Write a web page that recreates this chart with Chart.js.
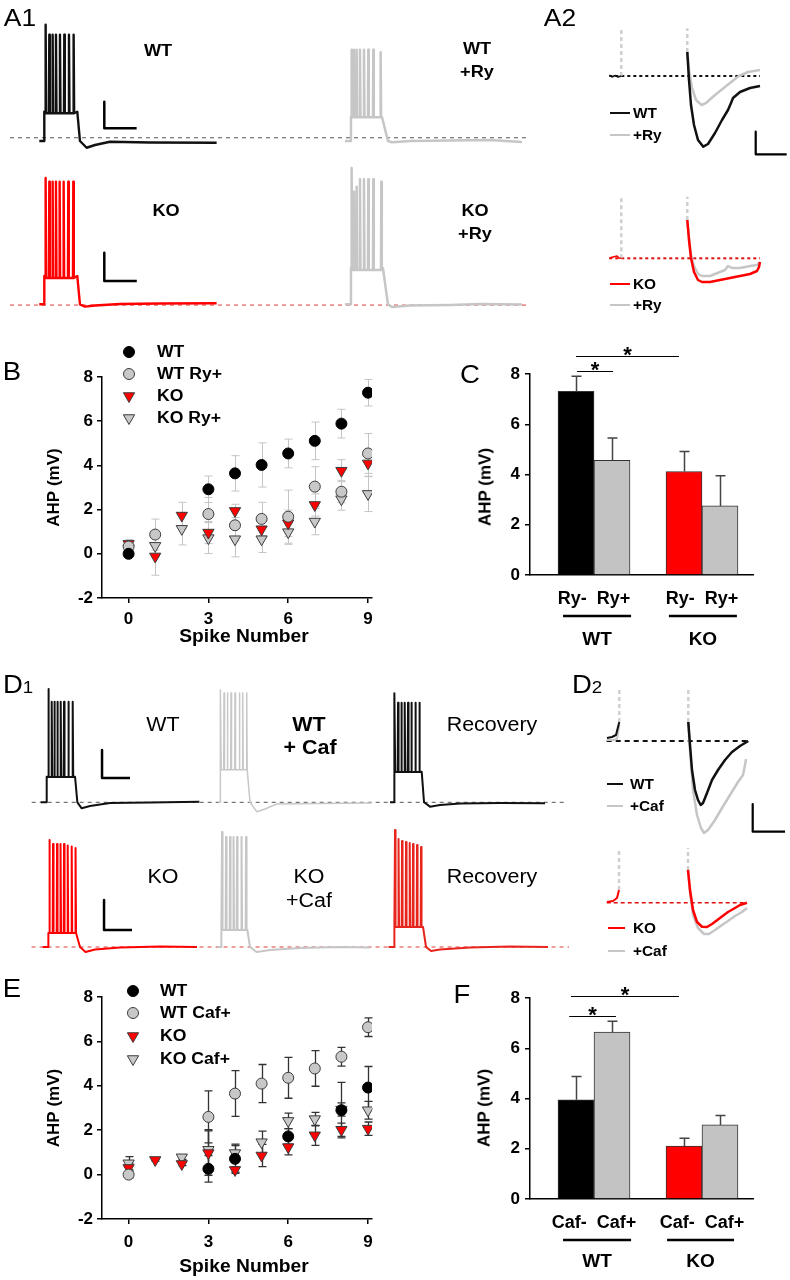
<!DOCTYPE html>
<html><head><meta charset="utf-8">
<script src="https://cdn.jsdelivr.net/npm/chart.js@4.4.1/dist/chart.umd.min.js"></script>
<style>
html,body{margin:0;padding:0;background:#fff}
body{position:relative;width:790px;height:1280px;overflow:hidden;font-family:'Liberation Sans',Arial,Helvetica,sans-serif;color:#000}
canvas.c{position:absolute}
.tx{position:absolute;white-space:nowrap;line-height:1;transform-origin:50% 50%}
.sw{position:absolute;height:2px}
.mk{position:absolute;width:16px;height:16px}
</style></head><body>
<script>
Chart.defaults.font.family = "'Liberation Sans', Arial, Helvetica, sans-serif";
Chart.defaults.color = '#000';
Chart.defaults.animation = false;

/* ================= DATA ================= */
const SPIKE_NUMBER = [0,1,2,3,4,5,6,7,8,9];
const SPIKE_TICKS  = [0,3,6,9];

// Panel B : AHP (mV) vs spike number, ryanodine
const B_NAMES       = ['WT','WT Ry+','KO','KO Ry+'];
const B_WT          = [0.00, null, null, 2.92, 3.64, 4.02, 4.54, 5.11, 5.89, 7.29];
const B_WT_SEM      = [0.10, null, null, 0.60, 0.80, 1.00, 0.65, 0.85, 0.65, 0.60];
const B_WT_RY       = [0.33, 0.87, null, 1.80, 1.29, 1.58, 1.68, 3.04, 2.81, 4.54];
const B_WT_RY_SEM   = [0.20, 0.70, null, 0.75, 0.70, 0.75, 1.20, 0.90, 0.50, 0.90];
const B_KO          = [0.45,-0.12, 1.73, 0.96, 1.94, 1.11, 1.38, 2.21, 3.76, 4.09];
const B_KO_SEM      = [0.20, 0.85, 0.60, 0.50, 0.30, 0.40, 0.60, 0.50, 0.50, 0.60];
const B_KO_RY       = [0.25, 0.36, 1.13, 0.71, 0.66, 0.66, 0.98, 1.46, 2.47, 2.71];
const B_KO_RY_SEM   = [0.20, 0.50, 0.73, 0.70, 0.80, 0.60, 0.55, 0.60, 0.50, 0.80];

// Panel C : mean AHP, ryanodine
const C_CATEGORIES = ['Ry-','Ry+','Ry-','Ry+'];
const C_GROUPS     = ['WT','KO'];
const C_AHP        = [7.31, 4.56, 4.12, 2.75];
const C_SEM        = [0.60, 0.89, 0.80, 1.20];

// Panel E : AHP vs spike number, caffeine
const E_NAMES       = ['WT','WT Caf+','KO','KO Caf+'];
const E_WT          = [null, null, null, 0.26, 0.71, null, 1.72, null, 2.90, 3.92];
const E_WT_SEM      = [null, null, null, 0.60, 0.60, null, 0.35, null, 1.25, 0.95];
const E_WT_CAF      = [0.00, null, null, 2.60, 3.65, 4.10, 4.36, 4.78, 5.31, 6.64];
const E_WT_CAF_SEM  = [0.15, null, null, 1.17, 1.03, 0.86, 0.92, 0.80, 0.42, 0.42];
const E_KO          = [0.30, 0.66, 0.48, 0.97, 0.21, 0.86, 1.24, 1.77, 2.02, 2.07];
const E_KO_SEM      = [0.20, 0.05, 0.08, 1.00, 0.15, 0.50, 0.35, 0.45, 0.30, 0.30];
const E_KO_CAF      = [0.51, null, 0.78, 1.12, 0.97, 1.46, 2.42, 2.50, 2.93, 2.90];
const E_KO_CAF_SEM  = [0.30, null, 0.10, 0.90, 0.40, 0.50, 0.35, 0.30, 0.30, 0.40];

// Panel F : mean AHP, caffeine
const F_CATEGORIES = ['Caf-','Caf+','Caf-','Caf+'];
const F_GROUPS     = ['WT','KO'];
const F_AHP        = [3.95, 6.64, 2.11, 2.95];
const F_SEM        = [0.93, 0.43, 0.31, 0.37];

// Voltage traces (time ms, membrane potential mV relative to rest)
const A1_WT    = {t0:0,   on:30,  plat:23.4, trough:22.2, spikes:[38,60,80,100,124,150,178,206], peaks:[93,85,85,85,85,85,85,85], off:228, tail:[[244,0],[284,-5.4],[334,-3.2],[424,-0.6],[664,-1.2],[1064,-1.4]]};
const A1_WT_RY = {t0:1834,on:1870,plat:19.2, trough:19.0, spikes:[1874,1888,1904,1924,1948,1974,2004,2048], peaks:[73,73,73,73,73,73,73,71], off:2056, tail:[[2092,0],[2116,-1],[2224,0],[2464,0.4],[2704,0.8],[2896,-0.8]]};
const A1_KO    = {t0:0,   on:30,  plat:22.6, trough:21.0, spikes:[38,60,80,100,122,146,174,204], peaks:[101,98,98,98,98,98,98,98], off:228, tail:[[244,0],[274,-1.9],[334,-1],[484,0.2],[724,0.6],[1064,0.8]]};
const A1_KO_RY = {t0:1834,on:1870,plat:29.0, trough:27.4, spikes:[1874,1888,1904,1924,1948,1974,2004,2052], peaks:[109,90,94,100,100,100,100,98], off:2062, tail:[[2092,0],[2116,-2.2],[2224,-1],[2464,-0.6],[2644,0.2],[2896,-0.2]]};
const A1_TOP_BASE = {from:-176, to:2926, v:2.6};
const A1_BOT_BASE = {from:-176, to:2926, v:-0.6};
const A1_TOP_BAR  = {t:390, v:10.2, dt:194, dv:21.2};
const A1_BOT_BAR  = {t:390, v:18.6, dt:195, dv:22.6};

const D1_WT     = {t0:0,   on:36,  plat:20.5, trough:20.2, spikes:[46,66,82,100,120,140,166,192], peaks:[90.6,80.5,80.5,80.5,80.5,80.5,80.5,80.5], off:206, tail:[[220,0],[246,-4.8],[296,-3],[416,-0.6],[656,-0.2],[952,0.5]]};
const D1_WT_CAF = {t0:1066,on:1076,plat:24.5, trough:26.0, spikes:[1080,1100,1120,1142,1166,1192,1212,1236], peaks:[89.8,87.4,87.4,87.4,87.4,87.4,87.4,87.4], off:1240, tail:[[1256,0],[1296,-7.5],[1346,-5.4],[1416,-1.4],[1676,-1],[1986,-0.6]]};
const D1_WT_REC = {t0:2096,on:2120,plat:24.5, trough:24.2, spikes:[2124,2144,2164,2184,2204,2224,2248,2272], peaks:[87.2,79.7,79.7,79.7,79.7,79.7,79.7,79.7], off:2286, tail:[[2300,0],[2336,-3.5],[2396,-2.2],[2516,-1],[2756,-0.6],[3026,-0.8]]};
const D1_KO     = {t0:0,   on:34,  plat:11.2, trough:11.2, spikes:[40,62,86,107,128,150,174,197], peaks:[85.6,82.4,82.4,82.4,82.4,81.3,80.5,79.2], off:200, tail:[[224,0],[257,-4],[314,-2],[464,-0.4],[704,0.4],[926,0]]};
const D1_KO_CAF = {t0:1049,on:1070,plat:13.6, trough:13.6, spikes:[1076,1100,1124,1145,1166,1193,1220], peaks:[92,88,88,88,88,88,88], off:1228, tail:[[1244,0],[1283,-4],[1364,-2.4],[1544,-0.8],[1784,0],[1964,-0.4]]};
const D1_KO_REC = {t0:2075,on:2108,plat:16.0, trough:16.0, spikes:[2114,2135,2156,2180,2202,2222,2246,2270], peaks:[93.6,86.4,84.8,84,83.2,82.4,81.6,80], off:2282, tail:[[2300,0],[2330,-3.2],[2384,-2],[2564,-0.4],[2804,0.4],[3032,0]]};
const D1_TOP_BASE = {from:-54, to:3156, v:0};
const D1_BOT_BASE = {from:-67, to:3158, v:0};
const D1_TOP_BAR  = {t:368, v:19.4, dt:168, dv:22.4};
const D1_BOT_BAR  = {t:368, v:13.6, dt:168, dv:24};

// A2 / D2 : expanded AHP after the last spike
const A2T_WT  = [[156,5.28],[159.4,-0.88],[163.4,-6.38],[169.4,-10.78],[177.4,-14.08],[188,-15.55],[197.4,-14.96],[211.4,-12.54],[225.4,-9.68],[237.4,-7.48],[243.4,-5.94],[247.4,-4.84],[261.4,-3.52],[281.4,-2.64],[301.4,-2.2]];
const A2T_RY  = [[156,5.28],[159.4,1.32],[165.4,-2.64],[173.4,-5.28],[184.8,-6.38],[193.4,-5.94],[211.4,-4.18],[231.4,-2.42],[251.4,-0.66],[259.4,0],[277.4,0.88],[301.4,1.32]];
const A2T_PRE = [[0,0.22],[5.4,-0.22],[11.4,0.11],[17.4,-0.22],[24,0]];
const A2T_STIM = [[24,0,10.5],[156,5.28,10.5]];
const A2T_BASE = {from:0, to:301.4, v:0};
const A2T_BAR  = {t:292.8, v:-17.23, dt:62, dv:4.98};

const A2B_KO  = [[156,8.43],[159.4,4.03],[163.4,0.07],[169.4,-3.01],[177.4,-4.77],[185.4,-5.21],[201.4,-5.21],[221.4,-4.77],[251.4,-4.11],[281.4,-3.45],[295.4,-2.79],[299.4,-1.91],[301.4,-0.81]];
const A2B_RY  = [[156,8.43],[159.4,4.47],[163.4,0.73],[169.4,-1.69],[177.4,-3.45],[185.4,-3.89],[201.4,-3.89],[221.4,-3.01],[231.4,-2.57],[237.4,-1.69],[245.4,-2.13],[261.4,-2.13],[281.4,-1.69],[295.4,-1.47],[301.4,-0.81]];
const A2B_PRE = [[0,0.07],[7.4,0.29],[15.4,0.5],[19.4,0.07],[24,0]];
const A2B_STIM = [[24,0,13.55],[156,8.43,13.55]];
const A2B_BASE = {from:0, to:301.4, v:0};

const D2T_WT  = [[163.2,3.42],[166.6,-0.72],[170.6,-5.22],[176.6,-8.82],[182.6,-10.62],[188,-11.52],[192.6,-11.16],[200.6,-9.36],[210.6,-7.02],[222.6,-5.22],[236.6,-3.42],[250.6,-1.98],[266.6,-0.9],[283.2,0]];
const D2T_CAF = [[163.2,3.42],[166.6,-1.62],[172.6,-8.82],[180.6,-13.32],[188.6,-15.66],[194.6,-16.56],[202.6,-16.02],[216.6,-14.22],[230.6,-12.06],[246.6,-9.72],[262.6,-7.38],[272.6,-6.12],[276.6,-4.32],[278.6,-3.24]];
const D2T_PRE_WT  = [[0.6,0.54],[10.6,0.72],[18.6,1.08],[25.2,3.42]];
const D2T_PRE_CAF = [[0.6,0.18],[12.6,0.18],[20.6,0.36],[25.2,2.88]];
const D2T_STIM = [[25.2,3.42,9.18],[163.2,3.42,9.18]];
const D2T_BASE = {from:0, to:283.2, v:0};
const D2T_BAR  = {t:292, v:-16.33, dt:64.6, dv:4.99};

const D2B_KO  = [[162.6,5.9],[166.6,2.29],[172.6,-1.31],[180.6,-3.47],[190.6,-4.32],[200.6,-4.37],[210.6,-3.83],[226.6,-2.75],[242.6,-1.67],[256.6,-0.95],[266.6,-0.41],[280.6,0]];
const D2B_CAF = [[162.6,5.9],[166.6,1.93],[172.6,-2.21],[182.6,-4.55],[194.6,-5.63],[204.6,-5.63],[216.6,-4.91],[230.6,-4.01],[242.6,-3.29],[256.6,-2.39],[270.6,-1.67],[280.6,-0.95]];
const D2B_PRE = [[0.6,0.13],[12.6,0.31],[20.6,0.85],[24.6,2.29]];
const D2B_STIM = [[24.6,2.29,9.85],[162.6,5.9,9.85]];
const D2B_BASE = {from:0, to:280, v:0};

/* ================= LAYOUT / STYLE ================= */
const FONT = "'Liberation Sans', Arial, Helvetica, sans-serif";
const BLACK='#111111', GREY='#c6c6c6', RED='#ff0000';
const SERIES_STYLE = [
  {shape:'circle', fill:'#000000', stroke:'#000000', r:5.5},
  {shape:'circle', fill:'#c8c8c8', stroke:'#3c3c3c', r:5.5},
  {shape:'tri',    fill:'#ff0000', stroke:'#3c3c3c', r:6.5},
  {shape:'tri',    fill:'#c8c8c8', stroke:'#3c3c3c', r:6.5}
];
const BAR_SLOT = [0,1,3,4];
const GROUP_CENTER = [0.5,3.5];
const BAR_COLORS = ['#000000','#c3c3c3','#ff0000','#c3c3c3'];

function mk(l,t,w,h){
  const c=document.createElement('canvas');
  c.width=w;c.height=h;c.className='c';
  c.style.left=l+'px';c.style.top=t+'px';c.style.width=w+'px';c.style.height=h+'px';
  document.body.appendChild(c);return c;
}
function txt(s,x,y,size,bold,align,extra){
  const d=document.createElement('div');d.className='tx';d.innerHTML=s;
  d.style.fontSize=size+'px';d.style.fontWeight=bold?'bold':'normal';
  d.style.left=x+'px';d.style.top=y+'px';
  if(align==='l'){d.style.transformOrigin='0 50%';d.style.transform='translate(0,-50%) scaleX(1.1)';}
  else{d.style.transform='translate(-50%,-50%) scaleX(1.1)';}
  if(extra) d.style.cssText+=extra;
  document.body.appendChild(d);return d;
}
function swatch(x1,x2,y,color){
  const d=document.createElement('div');d.className='sw';
  d.style.left=x1+'px';d.style.width=(x2-x1)+'px';d.style.top=(y-1)+'px';d.style.background=color;
  document.body.appendChild(d);
}
function marker(st,x,y){
  const c=8;let sh;
  if(st.shape==='circle') sh=`<circle cx="${c}" cy="${c}" r="${st.r}" fill="${st.fill}" stroke="${st.stroke}" stroke-width="1"/>`;
  else { const r=st.r; sh=`<polygon points="${c},${c+r} ${c-r*0.866},${c-r/2} ${c+r*0.866},${c-r/2}" fill="${st.fill}" stroke="${st.stroke}" stroke-width="1"/>`; }
  const d=document.createElement('div');d.className='mk';d.style.left=(x-8)+'px';d.style.top=(y-8)+'px';
  d.innerHTML=`<svg width="16" height="16" viewBox="0 0 16 16">${sh}</svg>`;
  document.body.appendChild(d);
}

/* ---- trace helpers ---- */
function sweepPoints(s){
  const pts=[{x:s.t0,y:0},{x:s.on,y:0},{x:s.on,y:s.plat}];
  s.spikes.forEach((t,i)=>{pts.push({x:t-2,y:s.trough});pts.push({x:t,y:s.peaks[i]});pts.push({x:t+3,y:s.trough});});
  pts.push({x:s.off,y:s.plat});
  s.tail.forEach(p=>pts.push({x:p[0],y:p[1]}));
  return pts;
}
const pairs=a=>a.map(p=>({x:p[0],y:p[1]}));
const baseLine=b=>[{x:b.from,y:b.v},{x:b.to,y:b.v}];
const barPts=b=>[{x:b.t,y:b.v+b.dv},{x:b.t,y:b.v},{x:b.t+b.dt,y:b.v}];
const stimSets=(arr)=>arr.map(s=>({data:[{x:s[0],y:s[1]},{x:s[0],y:s[2]}],color:'#cfcfcf',w:2.5,dash:[4,3]}));

function traceChart(box,xr,yr,sets){
  new Chart(mk(...box),{type:'scatter',
    data:{datasets:sets.map(s=>({data:s.data,showLine:true,borderColor:s.color,borderWidth:s.w,borderDash:s.dash||[],
      pointRadius:0,pointHoverRadius:0,tension:0,borderJoinStyle:'round',borderCapStyle:'butt',clip:false}))},
    options:{responsive:false,animation:false,events:[],devicePixelRatio:1,layout:{padding:0},
      plugins:{legend:{display:false},tooltip:{enabled:false}},
      scales:{x:{type:'linear',display:false,min:xr[0],max:xr[1]},y:{type:'linear',display:false,min:yr[0],max:yr[1]}}}});
}

/* ---- error bar plugin ---- */
function drawErr(chart,o){
  const ctx=chart.ctx,xs=chart.scales.x,ys=chart.scales.y;
  ctx.save();ctx.strokeStyle=o.color;ctx.lineWidth=o.width;
  chart.data.datasets.forEach(ds=>ds.data.forEach(p=>{
    if(p.e==null||p.y==null) return;
    const x=Math.round(xs.getPixelForValue(p.x))+0.5;
    const yt=ys.getPixelForValue(p.y+p.e), yb=ys.getPixelForValue(o.upOnly?p.y:p.y-p.e);
    ctx.beginPath();ctx.moveTo(x,yb);ctx.lineTo(x,yt);ctx.moveTo(x-o.cap,yt);ctx.lineTo(x+o.cap,yt);
    if(!o.upOnly){ctx.moveTo(x-o.cap,yb);ctx.lineTo(x+o.cap,yb);}
    ctx.stroke();
  }));
  ctx.restore();
}
const errPlugin={id:'errbars',
  beforeDatasetsDraw(c,a,o){if(!o.onTop)drawErr(c,o);},
  afterDatasetsDraw(c,a,o){if(o.onTop)drawErr(c,o);}};

/* ---- annotation plugin for bar panels ---- */
const annPlugin={id:'ann',afterDraw(chart,a,o){
  const ctx=chart.ctx,xs=chart.scales.x,ys=chart.scales.y,bot=chart.chartArea.bottom;
  ctx.save();ctx.strokeStyle='#000';ctx.fillStyle='#000';ctx.textAlign='center';
  o.brackets.forEach(b=>{
    const y=Math.round(ys.getPixelForValue(b.at))+0.5,x1=xs.getPixelForValue(b.from),x2=xs.getPixelForValue(b.to);
    ctx.lineWidth=1;ctx.beginPath();ctx.moveTo(x1,y);ctx.lineTo(x2,y);ctx.stroke();
    ctx.font="bold 22px "+FONT;ctx.textBaseline='alphabetic';ctx.fillText('*',(x1+x2)/2,y+o.starDy);
  });
  o.groups.forEach(g=>{
    const x1=xs.getPixelForValue(g.from),x2=xs.getPixelForValue(g.to);
    ctx.lineWidth=2.5;ctx.beginPath();ctx.moveTo(x1,bot+o.lineDy);ctx.lineTo(x2,bot+o.lineDy);ctx.stroke();
    ctx.font="bold 19px "+FONT;ctx.textBaseline='middle';ctx.fillText(g.label,(x1+x2)/2,bot+o.labelDy);
  });
  ctx.restore();
}};

/* ---- spike-number scatter panel ---- */
function spikePanel(box,padTop,xH,means,sems,names,err,tickPad){
  const datasets=means.map((m,k)=>{
    const st=SERIES_STYLE[k],data=[];
    SPIKE_NUMBER.forEach((x,i)=>{if(m[i]!=null)data.push({x:x,y:m[i],e:sems[k][i]});});
    return {label:names[k],data,pointStyle:st.shape==='tri'?'triangle':'circle',pointRotation:st.shape==='tri'?180:0,
      pointRadius:st.r,pointHoverRadius:st.r,pointBackgroundColor:st.fill,pointBorderColor:st.stroke,pointBorderWidth:1,showLine:false};
  });
  const axisCommon={grid:{display:true,drawOnChartArea:false,drawTicks:true,tickLength:5,color:'#000',lineWidth:1.5},
    border:{display:true,color:'#000',width:1.5}};
  new Chart(mk(...box),{type:'scatter',data:{datasets},
    options:{responsive:false,animation:false,events:[],devicePixelRatio:1,
      layout:{padding:{left:40,right:28,top:padTop,bottom:0}},
      plugins:{legend:{display:false},tooltip:{enabled:false},errbars:err},
      scales:{
        x:Object.assign({type:'linear',min:-1,max:9.15,
          afterBuildTicks:s=>{s.ticks=SPIKE_TICKS.map(v=>({value:v}));},
          afterFit:s=>{s.height=xH;},
          ticks:{font:{size:17,weight:'bold'},padding:tickPad,color:'#000'},
          title:{display:false}},axisCommon),
        y:Object.assign({type:'linear',min:-2,max:8,
          afterFit:s=>{s.width=62;},
          ticks:{stepSize:2,font:{size:17,weight:'bold'},padding:4,color:'#000'},
          title:{display:true,text:'AHP (mV)',font:{size:17,weight:'bold'},color:'#000',padding:{top:4,bottom:4}}},axisCommon)
      }},
    plugins:[errPlugin]});
}

/* ---- bar panel ---- */
function barPanel(box,padTop,xH,vals,sems,cats,groups,brackets,groupExt,dy){
  const data=vals.map((v,i)=>({x:BAR_SLOT[i],y:v,e:sems[i]}));
  new Chart(mk(...box),{type:'bar',
    data:{datasets:[{data,backgroundColor:BAR_COLORS,borderColor:'#333',borderWidth:1,barPercentage:1,categoryPercentage:1}]},
    options:{responsive:false,animation:false,events:[],devicePixelRatio:1,
      layout:{padding:{left:60,right:37,top:padTop,bottom:0}},
      plugins:{legend:{display:false},tooltip:{enabled:false},
        errbars:{color:'#444',width:1.5,cap:5,upOnly:true,onTop:true},
        ann:{brackets,groups:groups.map((g,i)=>({label:g,from:groupExt[i][0],to:groupExt[i][1]})),starDy:dy.star,lineDy:dy.line,labelDy:dy.label}},
      scales:{
        x:{type:'linear',offset:false,min:-1.278,max:4.917,
          afterBuildTicks:s=>{s.ticks=GROUP_CENTER.map(v=>({value:v}));},
          afterFit:s=>{s.height=xH;},
          ticks:{font:{size:18,weight:'bold'},padding:13,color:'#000',maxRotation:0,autoSkip:false,
            callback:v=>{const g=GROUP_CENTER.indexOf(v);return g<0?'':cats[2*g]+'  '+cats[2*g+1];}},
          grid:{display:false,drawTicks:false},border:{display:true,color:'#000',width:1.5}},
        y:{type:'linear',min:0,max:8,afterFit:s=>{s.width=70;},
          ticks:{stepSize:2,font:{size:17,weight:'bold'},padding:5,color:'#000'},
          grid:{display:true,drawOnChartArea:false,drawTicks:true,tickLength:5,color:'#000',lineWidth:1.5},
          border:{display:true,color:'#000',width:1.5}}
      }},
    plugins:[errPlugin,annPlugin]});
}

/* ================= BUILD ================= */
// A1
traceChart([3,0,560,165],[-217.8,3142.2],[-19.2,112.8],[
  {data:barPts(A1_TOP_BAR),color:'#000',w:2.5},
  {data:sweepPoints(A1_WT),color:BLACK,w:2.4},
  {data:sweepPoints(A1_WT_RY),color:GREY,w:2.5},
  {data:baseLine(A1_TOP_BASE),color:'#555',w:1,dash:[4,4]}]);
traceChart([3,165,560,160],[-217.8,3142.2],[-16.56,111.44],[
  {data:barPts(A1_BOT_BAR),color:'#000',w:2.5},
  {data:sweepPoints(A1_KO),color:RED,w:2.4},
  {data:sweepPoints(A1_KO_RY),color:GREY,w:2.5},
  {data:baseLine(A1_BOT_BASE),color:'#e03a3a',w:1,dash:[4,4]}]);
// A2
traceChart([600,20,190,145],[-18.6,361.4],[-19.58,12.32],[
  {data:barPts(A2T_BAR),color:'#000',w:2.2},
  {data:pairs(A2T_WT),color:BLACK,w:2.5},
  {data:pairs(A2T_RY),color:GREY,w:2.5},
  {data:pairs(A2T_PRE),color:BLACK,w:1.5},
  ...stimSets(A2T_STIM),
  {data:baseLine(A2T_BASE),color:BLACK,w:2,dash:[3,3]}]);
traceChart([600,180,190,135],[-18.6,361.4],[-12.47,17.23],[
  {data:pairs(A2B_KO),color:RED,w:2.5},
  {data:pairs(A2B_RY),color:GREY,w:2.5},
  {data:pairs(A2B_PRE),color:RED,w:1.5},
  ...stimSets(A2B_STIM),
  {data:baseLine(A2B_BASE),color:'#e01010',w:2,dash:[3,3]}]);
// D1
traceChart([0,680,575,140],[-244.2,3205.8],[-14.16,97.84],[
  {data:barPts(D1_TOP_BAR),color:'#000',w:2.5},
  {data:sweepPoints(D1_WT),color:BLACK,w:2},
  {data:sweepPoints(D1_WT_CAF),color:'#c8c8c8',w:1.5},
  {data:sweepPoints(D1_WT_REC),color:BLACK,w:2},
  {data:baseLine(D1_TOP_BASE),color:'#555',w:1,dash:[4,4]}]);
traceChart([0,820,575,140],[-256.2,3193.8],[-10.4,101.6],[
  {data:barPts(D1_BOT_BAR),color:'#000',w:2.5},
  {data:sweepPoints(D1_KO),color:RED,w:2},
  {data:sweepPoints(D1_KO_CAF),color:GREY,w:2},
  {data:sweepPoints(D1_KO_REC),color:'#e8251c',w:2},
  {data:baseLine(D1_BOT_BASE),color:'#e03a3a',w:1,dash:[4,4]}]);
// D2
traceChart([600,680,190,160],[-13.4,366.6],[-17.82,10.98],[
  {data:barPts(D2T_BAR),color:'#000',w:2.2},
  {data:pairs(D2T_WT),color:BLACK,w:2.5},
  {data:pairs(D2T_CAF),color:GREY,w:2.5},
  {data:pairs(D2T_PRE_WT),color:BLACK,w:2},
  {data:pairs(D2T_PRE_CAF),color:GREY,w:2},
  ...stimSets(D2T_STIM),
  {data:baseLine(D2T_BASE),color:BLACK,w:2,dash:[5,4]}]);
traceChart([600,840,190,120],[-13.4,366.6],[-10.31,11.29],[
  {data:pairs(D2B_KO),color:RED,w:2.5},
  {data:pairs(D2B_CAF),color:GREY,w:2.5},
  {data:pairs(D2B_PRE),color:RED,w:2},
  ...stimSets(D2B_STIM),
  {data:baseLine(D2B_BASE),color:'#e01010',w:1.5,dash:[4,3]}]);

// B & E
spikePanel([0,330,400,320],47,52,[B_WT,B_WT_RY,B_KO,B_KO_RY],[B_WT_SEM,B_WT_RY_SEM,B_KO_SEM,B_KO_RY_SEM],B_NAMES,
  {color:'#c4c4c4',width:1,cap:4},6);
spikePanel([0,940,400,340],57,61,[E_WT,E_WT_CAF,E_KO,E_KO_CAF],[E_WT_SEM,E_WT_CAF_SEM,E_KO_SEM,E_KO_CAF_SEM],E_NAMES,
  {color:'#333',width:1.3,cap:4},8);

// C & F
barPanel([400,330,390,330],44,85,C_AHP,C_SEM,C_CATEGORIES,C_GROUPS,
  [{from:0,to:2.86,at:8.73},{from:0.03,to:1.03,at:8.13}],[[-0.36,1.53],[2.58,4.47]],{star:5,line:41,label:65});
barPanel([400,950,390,330],48,81,F_AHP,F_SEM,F_CATEGORIES,F_GROUPS,
  [{from:-0.14,to:2.86,at:8.09},{from:-0.19,to:1.11,at:7.29}],[[-0.36,1.53],[2.53,4.39]],{star:5,line:41,label:63});

/* ---- text & legends ---- */
txt('A1',20,18,24,false);
txt('A2',560,18,24,false);
txt('WT',158,50,16.5,true);
txt('WT',477,48,16.5,true); txt('+Ry',477,71,16.5,true);
txt('KO',166,210,16.5,true);
txt('KO',475,210,16.5,true); txt('+Ry',475,233,16.5,true);

swatch(610,630,113,BLACK); swatch(610,630,135,GREY);
txt('WT',633,113,14,true,'l'); txt('+Ry',633,135,14,true,'l');
swatch(610,630,284,RED); swatch(610,630,305,GREY);
txt('KO',633,284,14,true,'l'); txt('+Ry',633,305,14,true,'l');

txt('B',12,371,25,false);
txt('C',470,374,25,false);
const BL_Y=[352,374,396,418];
B_NAMES.forEach((n,i)=>{marker(SERIES_STYLE[i],129,BL_Y[i]);txt(n,157,BL_Y[i],16,true,'l');});
txt('Spike Number',244,637,17.5,true);
txt('AHP (mV)',485,487,17,true,'c','transform:translate(-50%,-50%) rotate(-90deg)');

txt('D<span style="font-size:17px">1</span>',3,684,25,false,'l');
txt('D<span style="font-size:17px">2</span>',572,684,25,false,'l');
txt('WT',163,725,19.5,false);
txt('WT',309,725,19.5,true); txt('+ Caf',310,748,19.5,true);
txt('Recovery',492,725,19.5,false);
txt('KO',163,877,19.5,false);
txt('KO',309,877,19.5,false); txt('+Caf',309,901,19.5,false);
txt('Recovery',492,877,19.5,false);

swatch(607,623,784,BLACK); swatch(607,623,806,GREY);
txt('WT',630,784,14,true,'l'); txt('+Caf',630,806,14,true,'l');
swatch(608,625,928,RED); swatch(608,625,951,GREY);
txt('KO',633,928,14,true,'l'); txt('+Caf',633,951,14,true,'l');

txt('E',11.5,988,25,false);
txt('F',461.5,993.5,25,false);
const EL_Y=[991,1013,1036,1059];
E_NAMES.forEach((n,i)=>{marker(SERIES_STYLE[i],133,EL_Y[i]);txt(n,160,EL_Y[i],16,true,'l');});
txt('Spike Number',244,1267,17.5,true);
txt('AHP (mV)',484,1108,17,true,'c','transform:translate(-50%,-50%) rotate(-90deg)');
</script>
</body></html>
